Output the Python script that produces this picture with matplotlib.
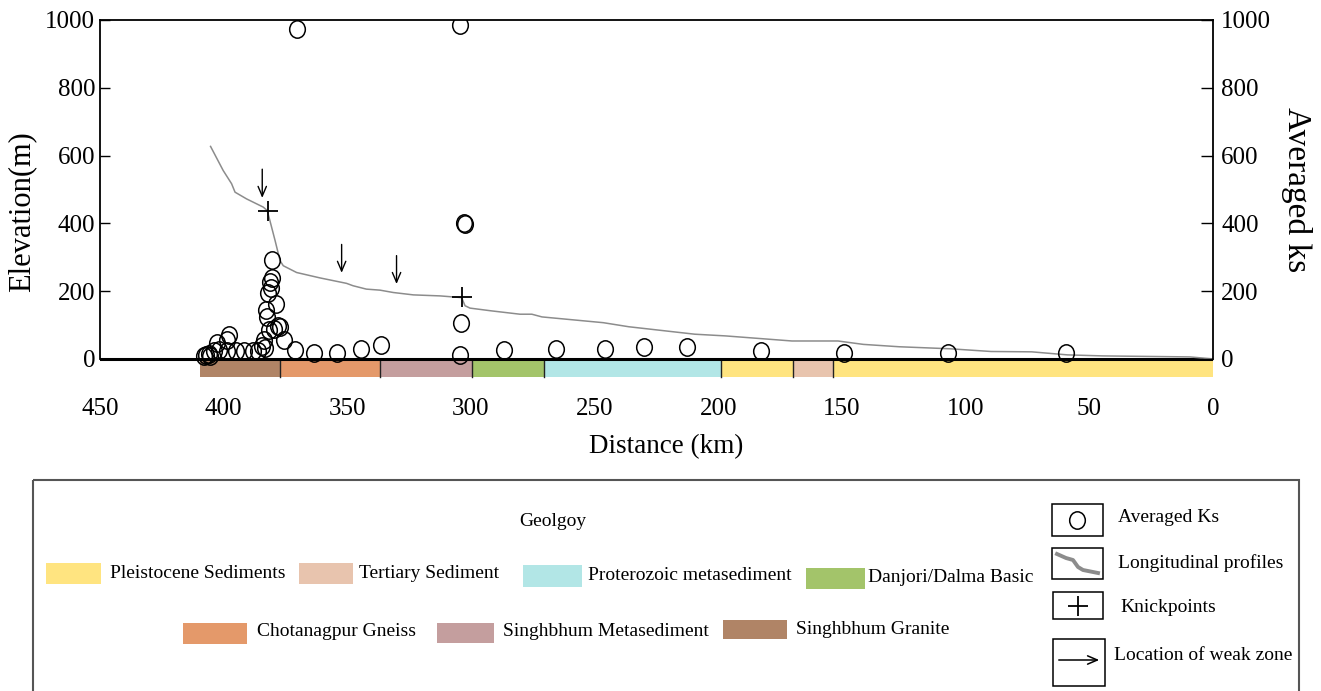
import numpy as np
import matplotlib
matplotlib.use('Agg')
import matplotlib.pyplot as plt
from matplotlib.path import Path
from matplotlib.transforms import Affine2D
from matplotlib.patches import Rectangle

plt.rcParams['font.family'] = ['Liberation Serif', 'DejaVu Serif']

# ---- longitudinal profile (distance km, elevation m) ----
prof_dist = [405.3, 400.2, 396.8, 395.4, 390.7, 384.0, 382.4, 381.3, 379.2, 377.2, 375.9,
             370.5, 361.0, 350.3, 347.7, 342.3, 336.8, 331.4, 323.3, 312.5, 303.8, 302.4,
             300.4, 291.9, 280.2, 275.4, 271.3, 246.5, 236.2, 209.5, 197.1, 170.2, 151.6,
             141.4, 126.9, 106.3, 89.7, 73.3, 58.8, 44.5, 9.3, 0.0]
prof_elev = [627, 556, 517, 492, 472, 448, 438, 408, 349, 290, 275,
             255, 239, 223, 216, 206, 203, 196, 189, 186, 181, 157,
             150, 142, 132, 132, 124, 107, 95, 73, 68, 53, 53,
             43, 36, 30, 22, 21, 12, 9, 6, 0]

# ---- averaged ks ----
ks_dist = [370.4, 304.3, 303.0, 302.4, 304.1, 304.3,
           286.5, 265.5, 246.0, 230.2, 212.8, 182.6, 149.2, 107.2, 59.3,
           371.2, 363.4, 354.0, 344.5, 336.4,
           380.6, 380.6, 381.2, 380.9, 382.0, 378.9, 382.9, 382.5, 378.2, 377.1,
           379.6, 381.6, 375.8, 383.6, 384.3, 397.8, 398.5, 402.5, 407.2, 405.9,
           403.8, 401.8, 398.5, 395.1, 391.7, 388.3, 386.3, 383.3, 407.9, 405.4]
ks_val = [973, 984, 401, 399, 107, 13,
          25, 30, 30, 36, 36, 22, 19, 19, 19,
          27, 19, 19, 30, 41,
          291, 238, 226, 209, 194, 163, 143, 123, 98, 94,
          88, 86, 56, 56, 38, 71, 56, 46, 12, 15,
          22, 27, 22, 22, 22, 22, 24, 32, 9, 9]

# ---- knickpoints ----
knick_dist = [382.2, 303.7]
knick_elev = [437, 182]

# ---- weak zones (arrows) ----
weak_dist = [384.4, 352.3, 330.1]
weak_top = [568, 346, 313]
weak_tip = [467, 246, 213]

# ---- geology strip ----
geo_names = ['Singhbhum Granite', 'Chotanagpur Gneiss', 'Singhbhum Metasediment',
             'Danjori/Dalma Basic', 'Proterozoic metasediment', 'Pleistocene Sediments',
             'Tertiary Sediment', 'Pleistocene Sediments']
geo_from = [409.6, 377.1, 336.9, 299.5, 270.6, 199.1, 169.6, 153.7]
geo_to = [377.1, 336.9, 299.5, 270.6, 199.1, 169.6, 153.7, 0.0]
geo_colors = {
    'Pleistocene Sediments': '#FFE480',
    'Tertiary Sediment': '#E8C4AE',
    'Proterozoic metasediment': '#B2E6E6',
    'Danjori/Dalma Basic': '#A3C46A',
    'Chotanagpur Gneiss': '#E4996A',
    'Singhbhum Metasediment': '#C49E9E',
    'Singhbhum Granite': '#B08466',
}

x_ticks = [450, 400, 350, 300, 250, 200, 150, 100, 50, 0]
y_ticks = [0, 200, 400, 600, 800, 1000]

# oval marker (a bit taller than wide)
oval = Path.unit_circle().transformed(Affine2D().scale(0.9, 1.0))

fig = plt.figure(figsize=(13.21, 6.91), dpi=100)
ax = fig.add_axes([0.0757, 0.4327, 0.8425, 0.5384])
ax.set_xlim(450, 0)
ax.set_ylim(-97.5, 1000)

# geology strip
for name, a, b in zip(geo_names, geo_from, geo_to):
    ax.barh(-28.5, a - b, left=b, height=51, color=geo_colors[name], edgecolor='none', zorder=1)
for b in geo_to[:-1]:
    ax.plot([b, b], [-54, -3], color='#222222', lw=1, zorder=2)

ax.axhline(0, color='black', lw=2.2, zorder=3)

ax.plot(prof_dist, prof_elev, color='#8c8c8c', lw=1.1, zorder=4)
ax.plot(ks_dist, ks_val, linestyle='none', marker=oval, markersize=12.5,
        markerfacecolor='none', markeredgecolor='black', markeredgewidth=1.1, zorder=5)
ax.plot(knick_dist, knick_elev, linestyle='none', marker='+', markersize=15,
        markeredgewidth=1.3, color='black', zorder=6)
for d, y0, y1 in zip(weak_dist, weak_top, weak_tip):
    ax.annotate('', xy=(d, y1), xytext=(d, y0),
                arrowprops=dict(arrowstyle='->,head_length=0.7,head_width=0.3', lw=1, color='black'))

# axes styling
for s in ['bottom', 'right']:
    ax.spines[s].set_visible(False)
ax.spines['left'].set_bounds(0, 1000)
ax.spines['left'].set_linewidth(1.3)
ax.spines['top'].set_linewidth(1.3)
ax.set_yticks(y_ticks)
ax.set_xticks(x_ticks)
ax.tick_params(axis='y', direction='in', length=7, width=1, pad=3.5, labelsize=18)
ax.tick_params(axis='x', direction='in', length=9.4, width=1, pad=4, labelsize=18)
for t in ax.xaxis.get_major_ticks():
    if t.get_loc() in (450, 0):
        t.tick1line.set_visible(False)

ax.set_xlabel('Distance (km)', fontsize=19.5)
ax.xaxis.set_label_coords(0.5085, -0.148)
ax.xaxis.label.set_va('center')
ax.set_ylabel('Elevation(m)', fontsize=22)
ax.yaxis.set_label_coords(-0.0705, 0.484)
ax.yaxis.label.set_va('center')

ax2 = ax.twinx()
ax2.set_ylim(ax.get_ylim())
for s in ['left', 'top', 'bottom']:
    ax2.spines[s].set_visible(False)
ax2.spines['right'].set_bounds(0, 1000)
ax2.spines['right'].set_linewidth(1.3)
ax2.set_yticks(y_ticks)
ax2.tick_params(axis='y', direction='in', length=9, width=1, pad=6, labelsize=18)
ax2.set_ylabel('Averaged ks', fontsize=24, rotation=-90)
ax2.yaxis.set_label_coords(1.0755, 0.543)
ax2.yaxis.label.set_va('center')
ax2.yaxis.label.set_ha('center')

# ---- legend panel drawn in pixel coordinates ----
lg = fig.add_axes([0, 0, 1, 1], zorder=-1)
lg.set_xlim(0, 1321)
lg.set_ylim(691, 0)
lg.axis('off')

lg.add_patch(Rectangle((33, 480), 1266, 230, facecolor='none', edgecolor='#555555', lw=1.5))
lg.text(553, 522, 'Geolgoy', fontsize=14, ha='center', va='center')

geo_legend = [
    ('Pleistocene Sediments', 46, 563, 55, 21, 110, 573),
    ('Tertiary Sediment', 299, 563, 54, 21, 359, 574),
    ('Proterozoic metasediment', 523, 565, 59, 22, 588, 576),
    ('Danjori/Dalma Basic', 806, 568, 59, 21, 868, 577),
    ('Chotanagpur Gneiss', 183, 623, 64, 21, 257, 631),
    ('Singhbhum Metasediment', 437, 623, 57, 20, 503, 631),
    ('Singhbhum Granite', 723, 620, 64, 19, 796, 629),
]
for name, px, py, pw, ph, tx, ty in geo_legend:
    lg.add_patch(Rectangle((px, py), pw, ph, facecolor=geo_colors[name], edgecolor='none'))
    lg.text(tx, ty, name, fontsize=14, ha='left', va='center')

# symbol legend
boxes = [(1052, 504, 51, 32), (1052, 548, 51, 31), (1053, 592, 50, 27), (1053, 639, 52, 47)]
for bx, by, bw, bh in boxes:
    lg.add_patch(Rectangle((bx, by), bw, bh, facecolor='none', edgecolor='black', lw=1.1))
lg.plot([1077], [520], marker=oval, markersize=12.5, markerfacecolor='none',
        markeredgecolor='black', markeredgewidth=1.1)
lg.plot([1057, 1066, 1073, 1078, 1083, 1098], [554, 558, 560, 567, 570, 573],
        color='#8c8c8c', lw=2.8)
lg.plot([1078], [606], marker='+', markersize=15, markeredgewidth=1.3, color='black')
lg.annotate('', xy=(1102, 660), xytext=(1056, 660),
            arrowprops=dict(arrowstyle='->,head_length=0.7,head_width=0.3', lw=1.1, color='black'))
lg.text(1118, 518, 'Averaged Ks', fontsize=14, va='center')
lg.text(1118, 563, 'Longitudinal profiles', fontsize=14, va='center')
lg.text(1120, 608, 'Knickpoints', fontsize=14, va='center')
lg.text(1114, 655, 'Location of weak zone', fontsize=14, va='center')

fig.savefig('out.png', dpi=100)
